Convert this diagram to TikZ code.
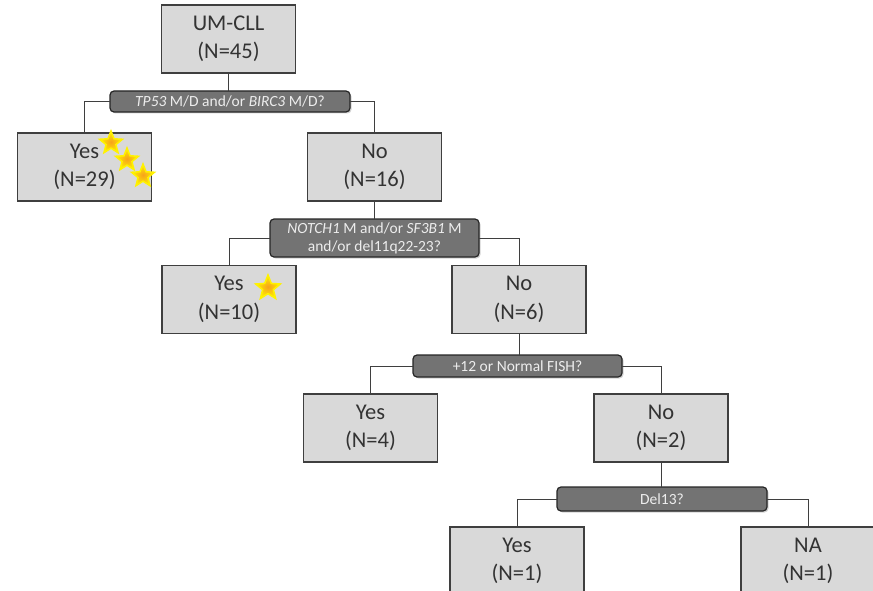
\documentclass[tikz,border=0pt]{standalone}
\usepackage{fontspec}
\setmainfont{Carlito}
\usepackage{xcolor}
\usepackage{tikz}
\usetikzlibrary{shapes.geometric, shadows}
\definecolor{boxgray}{HTML}{D9D9D9}
\definecolor{bargray}{HTML}{737373}
\definecolor{edgegray}{HTML}{3F3F3F}
\definecolor{starcore}{HTML}{F7A21B}
\definecolor{starrim}{HTML}{FFF200}

\begin{document}
\begin{tikzpicture}[x=1pt,y=-1pt,inner sep=0pt,outer sep=0pt,
  grpbox/.style={draw=edgegray,line width=1.2pt,fill=boxgray,text=black!80,minimum width=134pt,minimum height=68pt,align=center,font=\fontsize{22.5}{28.5}\selectfont},
  askbar/.style={draw=black!85,line width=1.2pt,fill=bargray,rounded corners=4pt,text=white!93!black,align=center,font=\fontsize{15.5}{18}\selectfont,drop shadow={shadow xshift=1.5pt,shadow yshift=-1.5pt,fill=black!35}},
  link/.style={draw=edgegray,line width=1pt},
  goldstar/.style={star,star points=5,star point ratio=2.3,minimum size=24pt,draw=starrim,line width=1.5pt,inner color=starcore,outer color=starrim}]
\useasboundingbox (0,0) rectangle (873,591);
\node[grpbox] (boxRoot) at (228.5,39) {UM-CLL\\(N=45)};
\node[askbar,minimum width=240pt,minimum height=21pt] (askA) at (230,101.5) {\textit{TP53} M/D and/or \textit{BIRC3} M/D?};
\node[grpbox] (boxYesA) at (84.5,167) {Yes\\(N=29)};
\node[grpbox] (boxNoA) at (374.5,167) {No\\(N=16)};
\node[askbar,minimum width=209pt,minimum height=38pt] (askB) at (374.5,238) {\textit{NOTCH1} M and/or \textit{SF3B1} M\\and/or del11q22-23?};
\node[grpbox] (boxYesB) at (229,299.5) {Yes\\(N=10)};
\node[grpbox] (boxNoB) at (519,299.5) {No\\(N=6)};
\node[askbar,minimum width=209pt,minimum height=22pt] (askC) at (517.5,366) {+12 or Normal FISH?};
\node[grpbox] (boxYesC) at (370.5,428) {Yes\\(N=4)};
\node[grpbox] (boxNoC) at (661,428) {No\\(N=2)};
\node[askbar,minimum width=210pt,minimum height=24pt] (askD) at (662,499) {Del13?};
\node[grpbox] (boxYesD) at (517,561) {Yes\\(N=1)};
\node[grpbox] (boxNA) at (808,561) {NA\\(N=1)};
% branches
\draw[link] (boxRoot.south) -- (boxRoot.south |- askA.north);
\draw[link] (askA.west) -| (boxYesA.north);
\draw[link] (askA.east) -| (boxNoA.north);
\draw[link] (boxNoA.south) -- (boxNoA.south |- askB.north);
\draw[link] (askB.west) -| (boxYesB.north);
\draw[link] (askB.east) -| (boxNoB.north);
\draw[link] (boxNoB.south) -- (boxNoB.south |- askC.north);
\draw[link] (askC.west) -| (boxYesC.north);
\draw[link] (askC.east) -| (boxNoC.north);
\draw[link] (boxNoC.south) -- (boxNoC.south |- askD.north);
\draw[link] (askD.west) -| (boxYesD.north);
\draw[link] (askD.east) -| (boxNA.north);
% stars
\node[goldstar] (starA) at (111,143) {};
\node[goldstar] (starB) at (127,160) {};
\node[goldstar] (starC) at (143,176) {};
\node[goldstar,minimum size=26pt] (starD) at (268,288) {};
\end{tikzpicture}
\end{document}
